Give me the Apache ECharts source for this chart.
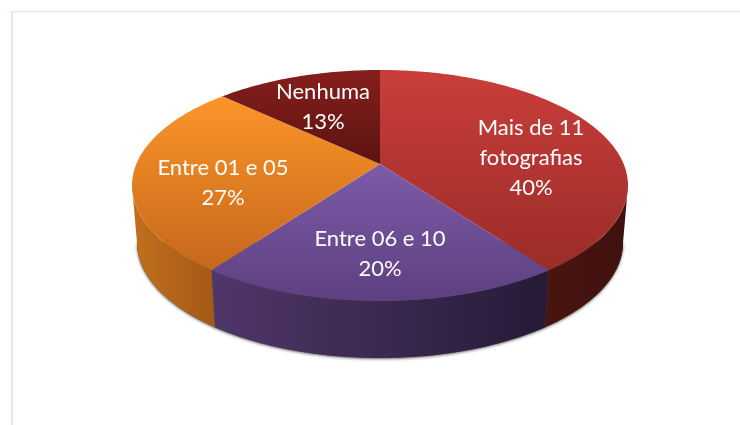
<!DOCTYPE html>
<html>
<head>
<meta charset="utf-8">
<style>
html, body { margin: 0; padding: 0; background: #fff; }
#main { width: 740px; height: 425px; }
</style>
<script src="https://cdn.jsdelivr.net/npm/echarts@6/dist/echarts.min.js"></script>
</head>
<body>
<div id="main"></div>
<script>
var categories = ['Mais de 11\nfotografias', 'Entre 06 e 10', 'Entre 01 e 05', 'Nenhuma'];
var values = [40, 20, 27, 13];

// pie perspective: k tilts the disc, rim is the floor of the wall
var k = 0.186;
var rimScale = 0.98;
var rimDrop = 0.511;
var topColors = [['#ca3e3a', '#9a2c28'], ['#7d5ba8', '#5d4080'], ['#fc9529', '#c6671c'], ['#861f1c', '#5a1311']];
var wallColors = [['#4a150f', '#3e110f'], ['#4f366b', '#3c2950', '#251a37'], ['#c2701e', '#a35916'], null];
var labelPx = [[531, 158], [380, 254], [223, 183], [323, 107]];

var total = values.reduce(function (a, b) { return a + b; }, 0);
var ranges = [];
var sum = 0;
for (var i = 0; i < values.length; i++) {
    ranges.push([sum / total * 360, (sum + values[i]) / total * 360]);
    sum += values[i];
}

// widest point of the disc, the wall stops there
var edgeDeg = Math.acos(-k) * 180 / Math.PI;

function project(deg, scale, drop) {
    var t = deg * Math.PI / 180;
    var v = -Math.cos(t);
    var d = 1 - k * v;
    return [Math.sqrt(1 - k * k) * Math.sin(t) / d * scale, v / d + drop];
}

function arc(from, to, scale, drop) {
    var pts = [];
    var n = Math.max(2, Math.ceil(Math.abs(to - from)));
    for (var i = 0; i <= n; i++) {
        pts.push(project(from + (to - from) * i / n, scale, drop));
    }
    return pts;
}

function gradient(colors, horizontal) {
    var stops = colors.map(function (c, i) {
        return { offset: i / (colors.length - 1), color: c };
    });
    return new echarts.graphic.LinearGradient(0, 0, horizontal ? 1 : 0, horizontal ? 0 : 1, stops);
}

function toPixels(api, pts) {
    return pts.map(function (p) { return api.coord(p); });
}

function renderShadow(params, api) {
    return {
        type: 'polygon',
        shape: { points: toPixels(api, arc(edgeDeg, 360 - edgeDeg, rimScale, rimDrop)) },
        style: { fill: '#555', shadowBlur: 3, shadowColor: 'rgba(0,0,0,0.6)', shadowOffsetX: 0, shadowOffsetY: 1 }
    };
}

function renderWall(params, api) {
    var i = params.dataIndex;
    var from = Math.max(api.value(0), edgeDeg);
    var to = Math.min(api.value(1), 360 - edgeDeg);
    if (to <= from) {
        return null;
    }
    var pts = arc(from, to, 1, 0).concat(arc(to, from, rimScale, rimDrop));
    return {
        type: 'polygon',
        shape: { points: toPixels(api, pts) },
        style: { fill: gradient(wallColors[i], true) }
    };
}

function renderTop(params, api) {
    var i = params.dataIndex;
    var pts = [[0, 0]].concat(arc(api.value(0), api.value(1), 1, 0));
    return {
        type: 'polygon',
        shape: { points: toPixels(api, pts) },
        style: { fill: gradient(topColors[i], false) }
    };
}

function renderLabel(params, api) {
    var i = params.dataIndex;
    return {
        type: 'text',
        x: labelPx[i][0],
        y: labelPx[i][1],
        style: {
            text: categories[i] + '\n' + values[i] + '%',
            fill: '#fff',
            font: '22px Lato',
            lineHeight: 30,
            align: 'center',
            verticalAlign: 'middle'
        }
    };
}

var chart = echarts.init(document.getElementById('main'), null, { renderer: 'canvas' });
var option = {
    animation: false,
    backgroundColor: '#fff',
    grid: { left: 132, right: 112, top: 70, bottom: 124 },
    xAxis: { type: 'value', min: -1, max: 1, show: false },
    yAxis: { type: 'value', min: -1 / (1 + k), max: 1 / (1 - k), inverse: true, show: false },
    graphic: [
        { type: 'line', shape: { x1: 11, y1: 11.5, x2: 740, y2: 11.5 }, style: { stroke: '#dce6f6', lineWidth: 1.5 } },
        { type: 'line', shape: { x1: 12, y1: 11, x2: 12, y2: 425 }, style: { stroke: '#dfe8f7', lineWidth: 2 } }
    ],
    series: [
        { type: 'custom', z: 1, clip: false, renderItem: renderShadow, data: [[0, 360]] },
        { type: 'custom', z: 2, clip: false, renderItem: renderWall, data: ranges },
        { type: 'custom', z: 3, clip: false, renderItem: renderTop, data: ranges },
        { type: 'custom', z: 4, clip: false, renderItem: renderLabel, data: ranges }
    ]
};
chart.setOption(option);
</script>
</body>
</html>
